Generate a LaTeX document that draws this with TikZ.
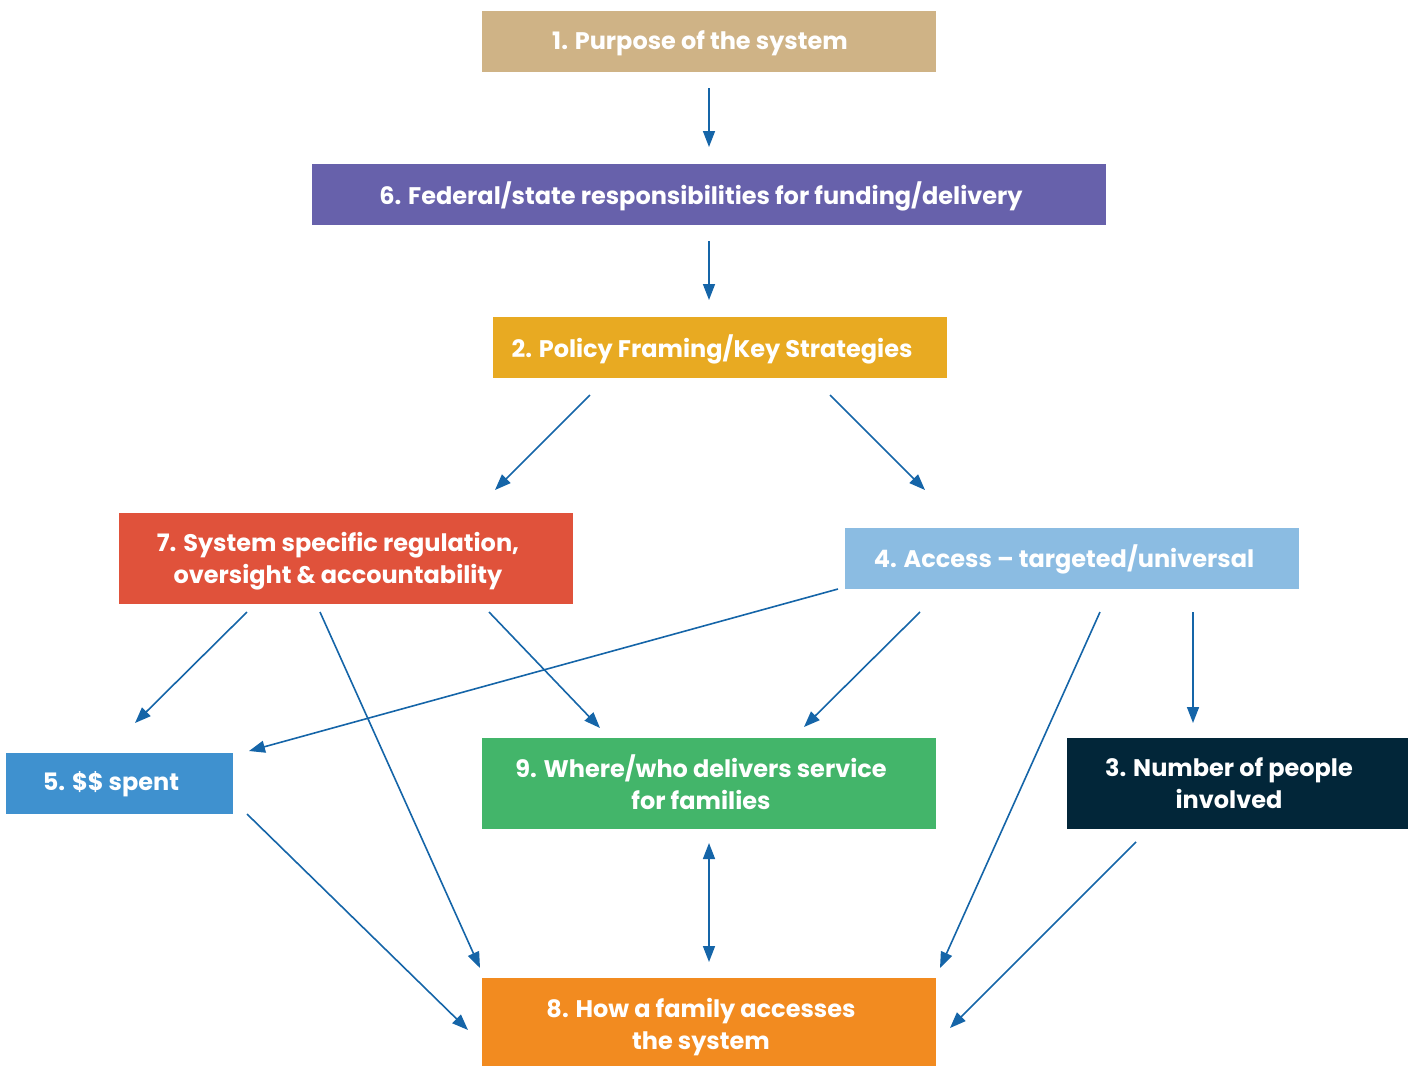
\documentclass[tikz,border=0pt]{standalone}
\usepackage{fontspec}
\setmainfont{Poppins}
\usetikzlibrary{arrows.meta}
\definecolor{cTan}{HTML}{CFB386}
\definecolor{cPurple}{HTML}{6761AB}
\definecolor{cYellow}{HTML}{E8AA22}
\definecolor{cRed}{HTML}{E0523B}
\definecolor{cLight}{HTML}{8BBCE2}
\definecolor{cBlue}{HTML}{3F91CF}
\definecolor{cGreen}{HTML}{43B56A}
\definecolor{cNavy}{HTML}{022639}
\definecolor{cOrange}{HTML}{F28B20}
\definecolor{cArrow}{HTML}{1565A8}
\begin{document}
\begin{tikzpicture}[x=1pt,y=-1pt,
  box/.style={rectangle, inner sep=0pt, text=white, align=center,
    font=\fontsize{24}{32}\selectfont\bfseries},
  conn/.style={draw=cArrow, line width=1.6pt, -{Triangle[length=16pt,width=12pt]}},
  bidir/.style={draw=cArrow, line width=1.6pt, {Triangle[length=16pt,width=12pt]}-{Triangle[length=16pt,width=12pt]}}]
\useasboundingbox (0,0) rectangle (1416,1066);
% boxes
\node[box, fill=cTan, minimum width=454pt, minimum height=61pt] (n1) at (709,41.5) {};
\node[box] (t1) at (700,43) {1. Purpose of the system};
\node[box, fill=cPurple, minimum width=794pt, minimum height=61pt] (n6) at (709,194.5) {};
\node[box] (t6) at (701,196) {6. Federal/state responsibilities for funding/delivery};
\node[box, fill=cYellow, minimum width=454pt, minimum height=61pt] (n2) at (720,347.5) {};
\node[box] (t2) at (712,349) {2. Policy Framing/Key Strategies};
\node[box, fill=cRed, minimum width=454pt, minimum height=91pt] (n7) at (346,558.5) {};
\node[box] (t7) at (338,561) {7. System specific regulation,\\oversight \& accountability};
\node[box, fill=cLight, minimum width=454pt, minimum height=61pt] (n4) at (1072,558.5) {};
\node[box] (t4) at (1064,559) {4. Access – targeted/universal};
\node[box, fill=cBlue, minimum width=227pt, minimum height=61pt] (n5) at (119.5,783.5) {};
\node[box] (t5) at (111,784.5) {5. \$\$ spent};
\node[box, fill=cGreen, minimum width=454pt, minimum height=91pt] (n9) at (709,783.5) {};
\node[box] (t9) at (701,782.5) {9. Where/who delivers service\\for families};
\node[box, fill=cNavy, minimum width=341pt, minimum height=91pt] (n3) at (1237.5,783.5) {};
\node[box] (t3) at (1229,783) {3. Number of people\\involved};
\node[box, fill=cOrange, minimum width=454pt, minimum height=88pt] (n8) at (709,1022) {};
\node[box] (t8) at (701,1027) {8. How a family accesses\\the system};
% connector end points
\coordinate (a1s) at (709,88);   \coordinate (a1e) at (709,147);
\coordinate (a2s) at (709,241);  \coordinate (a2e) at (709,300);
\coordinate (a3s) at (590,395);  \coordinate (a3e) at (495,490);
\coordinate (a4s) at (830,395);  \coordinate (a4e) at (925,490);
\coordinate (a5s) at (247,612);  \coordinate (a5e) at (135,723);
\coordinate (a6s) at (320,612);  \coordinate (a6e) at (480,968);
\coordinate (a7s) at (489,612);  \coordinate (a7e) at (600,728);
\coordinate (a8s) at (838,589);  \coordinate (a8e) at (249,751);
\coordinate (a9s) at (920,612);  \coordinate (a9e) at (804,727);
\coordinate (a10s) at (1100,612); \coordinate (a10e) at (940,968);
\coordinate (a11s) at (1193,612); \coordinate (a11e) at (1193,723);
\coordinate (a12s) at (247,814);  \coordinate (a12e) at (468,1030);
\coordinate (a13s) at (709,843);  \coordinate (a13e) at (709,962);
\coordinate (a14s) at (1136,842); \coordinate (a14e) at (950,1028);
% connectors
\draw[conn] (a1s) -- (a1e);
\draw[conn] (a2s) -- (a2e);
\draw[conn] (a3s) -- (a3e);
\draw[conn] (a4s) -- (a4e);
\draw[conn] (a5s) -- (a5e);
\draw[conn] (a6s) -- (a6e);
\draw[conn] (a7s) -- (a7e);
\draw[conn] (a8s) -- (a8e);
\draw[conn] (a9s) -- (a9e);
\draw[conn] (a10s) -- (a10e);
\draw[conn] (a11s) -- (a11e);
\draw[conn] (a12s) -- (a12e);
\draw[bidir] (a13s) -- (a13e);
\draw[conn] (a14s) -- (a14e);
\end{tikzpicture}
\end{document}
